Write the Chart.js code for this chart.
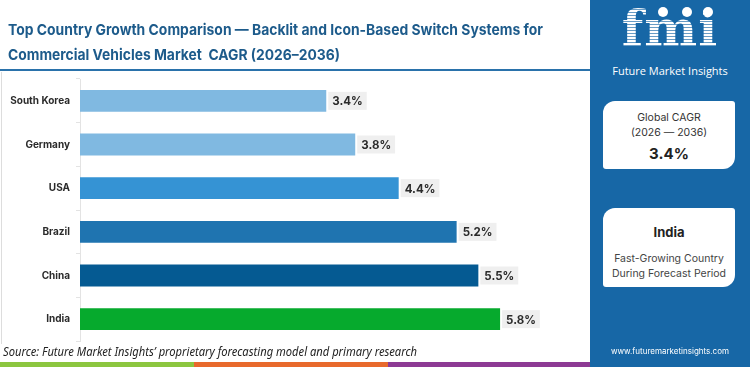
<!DOCTYPE html>
<html>
<head>
<meta charset="utf-8">
<script src="https://cdn.jsdelivr.net/npm/chart.js@4.4.1/dist/chart.umd.min.js"></script>
<style>
  html,body{margin:0;padding:0;background:#fff;}
  body{width:750px;height:367px;position:relative;overflow:hidden;font-family:Inter,"Noto Sans",sans-serif;}
  .fit{position:absolute;white-space:nowrap;transform-origin:0 50%;}
  .tline{left:8px;color:#1d5b8b;font-weight:700;font-size:15px;line-height:20px;}
  #rule{position:absolute;left:0;top:69px;width:590px;height:2px;background:#2a72ab;}
  #leftline{position:absolute;left:1px;top:72px;width:1px;height:272px;background:#ddd;}
  #chartbox{position:absolute;left:0;top:67px;width:590px;height:286px;}
  #source{left:3px;top:343px;font-style:italic;font-size:12px;line-height:18px;color:#222;font-family:"Noto Sans",Inter,sans-serif;}
  .strip{position:absolute;top:362px;height:5px;}
  #panel{position:absolute;left:590px;top:0;width:160px;height:367px;background:#1767a6;}
  #fmi{position:absolute;left:0;top:4px;width:160px;text-align:center;font-family:"DejaVu Serif",serif;font-weight:700;font-size:50px;line-height:50px;letter-spacing:1px;
       background:repeating-linear-gradient(#fff 0 2px, rgba(255,255,255,0.35) 2px 3px);-webkit-background-clip:text;background-clip:text;color:transparent;}
  .dot{position:absolute;width:10px;height:10px;border-radius:50%;background:#fff;top:7px;}
  #fminame{position:absolute;left:0;top:63px;width:160px;text-align:center;color:#fff;font-size:11px;font-family:"Open Sans",sans-serif;}
  .box{position:absolute;left:13px;width:132px;background:#fff;text-align:center;color:#333;border-radius:12px 3px 12px 3px;}
  #box1{top:101px;height:68px;}
  #box2{top:208px;height:79px;}
  #www{position:absolute;left:0;top:346px;width:160px;text-align:center;color:#fff;font-size:8px;}
</style>
</head>
<body>
<div class="fit tline" id="t1" data-w="535" style="top:20px;">Top Country Growth Comparison — Backlit and Icon-Based Switch Systems for</div>
<div class="fit tline" id="t2" data-w="332" style="top:45px;">Commercial Vehicles Market&nbsp; CAGR (2026–2036)</div>
<div id="rule"></div>
<div id="leftline"></div>
<div id="chartbox"><canvas id="c"></canvas></div>
<div class="fit" id="source" data-w="414">Source: Future Market Insights’ proprietary forecasting model and primary research</div>
<div class="strip" style="left:0;width:194px;background:#8cc63f;"></div>
<div class="strip" style="left:194px;width:194px;background:#e8692c;"></div>
<div class="strip" style="left:388px;width:202px;background:#8d3a94;"></div>
<div id="panel">
  <div id="fmi">fmi</div>
  <div class="dot" style="left:68px;"></div>
  <div class="dot" style="left:92px;"></div>
  <div class="dot" style="left:113px;"></div>
  <div id="fminame">Future Market Insights</div>
  <div class="box" id="box1">
    <div style="position:absolute;top:9px;width:100%;font-size:10.5px;line-height:15px;">Global CAGR<br>(2026 — 2036)</div>
    <div style="position:absolute;top:43px;width:100%;font-size:15px;font-weight:700;color:#222;">3.4%</div>
  </div>
  <div class="box" id="box2">
    <div style="position:absolute;top:16px;width:100%;font-size:13px;font-weight:700;color:#222;">India</div>
    <div style="position:absolute;top:43px;width:100%;font-size:10.5px;line-height:15px;color:#444;">Fast-Growing Country<br>During Forecast Period</div>
  </div>
  <div id="www">www.futuremarketinsights.com</div>
</div>
<script>
document.querySelectorAll('.fit').forEach(el => {
  const target = parseFloat(el.dataset.w);
  const w = el.getBoundingClientRect().width;
  if (w > 0) el.style.transform = 'scaleX(' + (target / w) + ')';
});

const countries = ["South Korea","Germany","USA","Brazil","China","India"];
const cagrValues = [3.4, 3.8, 4.4, 5.2, 5.5, 5.8];
const barColors = ["#80b9e1","#80b9e1","#3593d4","#1f74b0","#055a92","#06aa2d"];

const labelPlugin = {
  id: 'barLabels',
  afterDatasetsDraw(chart) {
    const ctx = chart.ctx;
    const meta = chart.getDatasetMeta(0);
    ctx.save();
    ctx.font = "700 11.5px Inter, 'Noto Sans', sans-serif";
    ctx.textBaseline = 'middle';
    meta.data.forEach((bar, i) => {
      const txt = cagrValues[i].toFixed(1) + '%';
      const w = ctx.measureText(txt).width;
      const x = bar.x + 2, y = bar.y;
      ctx.fillStyle = '#efefef';
      ctx.fillRect(x, y - 9, w + 8, 18);
      ctx.fillStyle = '#2b2b2b';
      ctx.fillText(txt, x + 4, y + 1);
    });
    ctx.restore();
  }
};

new Chart(document.getElementById('c'), {
  type: 'bar',
  data: {
    labels: countries,
    datasets: [{
      data: cagrValues,
      backgroundColor: barColors,
      borderWidth: 0,
      categoryPercentage: 1.0,
      barPercentage: 0.5
    }]
  },
  options: {
    indexAxis: 'y',
    responsive: true,
    maintainAspectRatio: false,
    animation: false,
    layout: { padding: { top: 1, bottom: 1, right: 3, left: 0 } },
    plugins: { legend: { display: false }, tooltip: { enabled: false } },
    scales: {
      x: { display: false, min: 0, max: 7 },
      y: {
        afterFit(scale) { scale.width = 80; },
        grid: { display: true, offset: true, drawOnChartArea: false, tickLength: 4, color: '#e3e3e3' },
        border: { display: true, color: '#e3e3e3' },
        ticks: { color: '#2b2b2b', font: { family: "Inter, 'Noto Sans', sans-serif", weight: '700', size: 10 }, padding: 6 }
      }
    }
  },
  plugins: [labelPlugin]
});
</script>
</body>
</html>
